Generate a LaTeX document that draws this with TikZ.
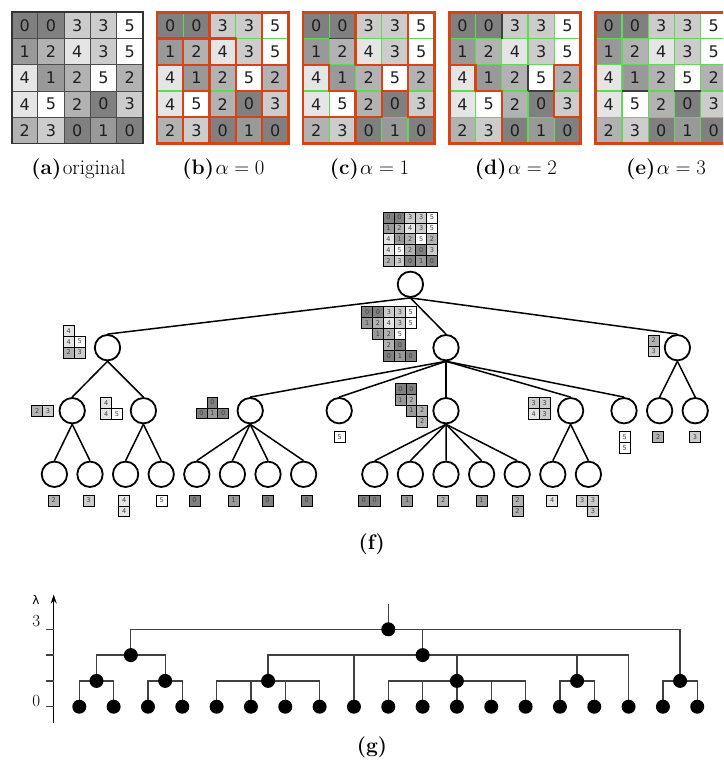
\documentclass[tikz,border=0pt]{standalone}
\usepackage{fontspec}
\newfontfamily\dejavu{DejaVu Sans}
\usetikzlibrary{arrows.meta,backgrounds}
\definecolor{zred}{HTML}{D84315}
\definecolor{zgreen}{HTML}{64D75A}
\newcommand{\gcs}{26.25}
\newcommand{\gtop}{12.3}
% full 5x5 value grid: #1 name prefix, #2 left x, #3 cell style
\newcommand{\biggrid}[3]{%
  \foreach \vals [count=\r from 0] in {{0,0,3,3,5},{1,2,4,3,5},{4,1,2,5,2},{4,5,2,0,3},{2,3,0,1,0}} {%
    \foreach \v [count=\c from 0] in \vals {%
      \pgfmathtruncatemacro\gpct{50-10*\v}%
      \node[#3, fill=black!\gpct] (#1-\r-\c) at ({#2+(\c+0.5)*\gcs},{\gtop+(\r+0.5)*\gcs}) {\v};
    }
  }
}
% all internal edges in green
\newcommand{\allgreen}[1]{%
  \foreach \r in {0,...,4} {\foreach \c in {0,...,3} {%
    \draw[gline] ({#1+(\c+1)*\gcs},{\gtop+\r*\gcs}) -- ++(0,\gcs);
    \draw[gline] ({#1+\r*\gcs},{\gtop+(\c+1)*\gcs}) -- ++(\gcs,0);
  }}
}
% selected edges: t=0 vertical segment between (r,c),(r,c+1); t=1 horizontal between (r,c),(r+1,c)
\newcommand{\gedges}[3]{%
  \foreach \t/\r/\c in {#3} {%
    \ifnum\t=0
      \draw[#2] ({#1+(\c+1)*\gcs},{\gtop+\r*\gcs}) -- ++(0,\gcs);
    \else
      \draw[#2] ({#1+\c*\gcs},{\gtop+(\r+1)*\gcs}) -- ++(\gcs,0);
    \fi
  }
}
% small region image: #1 prefix, #2 x, #3 y, #4 list r/c/v
\newcommand{\mini}[4]{%
  \foreach \r/\c/\v in {#4} {%
    \pgfmathtruncatemacro\gpct{50-10*\v}%
    \node[minicell, fill=black!\gpct] (#1-\r-\c) at ({#2+(\c+0.5)*10.9},{#3+(\r+0.5)*10.9}) {\v};
  }
}
\begin{document}
\begin{tikzpicture}[x=1pt,y=-1pt,
  bigcell/.style={inner sep=0pt, minimum size=26.25pt, font=\dejavu\fontsize{16}{18}\selectfont, text=black!88},
  acell/.style={bigcell, draw=black!70, line width=1pt},
  gline/.style={draw=zgreen, line width=1.2pt},
  dkline/.style={draw=black!75, line width=1.4pt},
  rline/.style={draw=zred, line width=2.3pt, line cap=round},
  minicell/.style={draw=black, line width=0.7pt, inner sep=0pt, minimum size=10.9pt, font=\dejavu\fontsize{6.5}{7}\selectfont, text=black!75},
  tnode/.style={circle, draw=black, line width=1.8pt, minimum size=25.4pt, inner sep=0pt},
  tedge/.style={draw=black, line width=1.5pt},
  dot/.style={circle, fill=black, inner sep=0pt, minimum size=14pt},
  dline/.style={draw=black!75, line width=1.3pt},
  captxt/.style={inner sep=0pt, font=\fontsize{21}{25}\selectfont}
]
\useasboundingbox (0,0) rectangle (723,767);
\clip (0,0) rectangle (723,767);

% ---------- top grids ----------
\biggrid{ga}{11.7}{acell}
\draw[draw=black!80, line width=1.8pt] (11.7,\gtop) rectangle ++(131.25,131.25);

\biggrid{gb}{157.0}{bigcell}
\allgreen{157.0}
\gedges{157.0}{rline}{0/0/1,0/0/3,0/1/0,0/1/1,0/1/2,0/1/3,0/2/0,0/2/1,0/2/2,0/2/3,0/3/0,0/3/1,0/3/2,0/3/3,0/4/0,0/4/1,0/4/2,0/4/3,1/0/0,1/0/1,1/0/2,1/1/0,1/1/1,1/1/2,1/1/3,1/1/4,1/2/1,1/2/3,1/2/4,1/3/0,1/3/1,1/3/2,1/3/3,1/3/4}
\draw[rline, line width=2.7pt] (157.0,\gtop) rectangle ++(131.25,131.25);

\biggrid{gc}{303.0}{bigcell}
\allgreen{303.0}
\gedges{303.0}{dkline}{1/0/1}
\gedges{303.0}{rline}{0/0/1,0/0/3,0/1/1,0/1/3,0/2/0,0/2/2,0/2/3,0/3/1,0/3/2,0/3/3,0/4/1,1/1/0,1/1/2,1/1/3,1/1/4,1/2/1,1/2/3,1/3/0,1/3/1,1/3/2,1/3/4}
\draw[rline, line width=2.7pt] (303.0,\gtop) rectangle ++(131.25,131.25);

\biggrid{gd}{449.3}{bigcell}
\allgreen{449.3}
\gedges{449.3}{dkline}{0/0/1,0/2/2,1/2/3}
\gedges{449.3}{rline}{0/2/0,0/2/3,0/3/1,0/3/3,0/4/1,1/1/0,1/1/4,1/2/1,1/3/4}
\draw[rline, line width=2.7pt] (449.3,\gtop) rectangle ++(131.25,131.25);

\biggrid{ge}{595.7}{bigcell}
\allgreen{595.7}
\gedges{595.7}{dkline}{1/2/1,1/2/3}
\draw[rline, line width=2.7pt] (595.7,\gtop) rectangle ++(131.25,131.25);

\node[captxt] (capa) at (78.5,169.3) {\textbf{(a)}\hspace{1.5pt}original};
\node[captxt] (capb) at (223.5,169.3) {\textbf{(b)}\hspace{1.5pt}$\alpha=0$};
\node[captxt] (capc) at (369.5,169.3) {\textbf{(c)}\hspace{1.5pt}$\alpha=1$};
\node[captxt] (capd) at (516,169.3) {\textbf{(d)}\hspace{1.5pt}$\alpha=2$};
\node[captxt] (cape) at (666,169.3) {\textbf{(e)}\hspace{1.5pt}$\alpha=3$};

% ---------- tree (f) ----------
\node[tnode] (root) at (410.4,284.3) {};
\node[tnode] (L) at (107.5,347.7) {};
\node[tnode] (M) at (446,347.7) {};
\node[tnode] (R) at (677.4,347.7) {};
\node[tnode] (a1) at (72.2,410.7) {};
\node[tnode] (a2) at (143.4,410.7) {};
\node[tnode] (m1) at (250.2,410.7) {};
\node[tnode] (m2) at (339.2,410.7) {};
\node[tnode] (m3) at (446,410.7) {};
\node[tnode] (m4) at (570.6,410.7) {};
\node[tnode] (m5) at (624,410.7) {};
\node[tnode] (r1) at (659.6,410.7) {};
\node[tnode] (r2) at (695.2,410.7) {};
\foreach \k in {0,...,7,9,10,...,15} {
  \node[tnode] (f\k) at ({54.4+35.6*\k},474.3) {};
}
\foreach \p/\ch in {root/L,root/M,root/R,L/a1,L/a2,M/m1,M/m2,M/m3,M/m4,M/m5,R/r1,R/r2,
  a1/f0,a1/f1,a2/f2,a2/f3,m1/f4,m1/f5,m1/f6,m1/f7,m3/f9,m3/f10,m3/f11,m3/f12,m3/f13,m4/f14,m4/f15} {
  \draw[tedge] (\p.south) -- (\ch.north);
}

\mini{iroot}{383}{212}{0/0/0,0/1/0,0/2/3,0/3/3,0/4/5,1/0/1,1/1/2,1/2/4,1/3/3,1/4/5,2/0/4,2/1/1,2/2/2,2/3/5,2/4/2,3/0/4,3/1/5,3/2/2,3/3/0,3/4/3,4/0/2,4/1/3,4/2/0,4/3/1,4/4/0}
\mini{iL}{63.3}{325.3}{0/0/4,1/0/4,1/1/5,2/0/2,2/1/3}
\mini{iM}{361.7}{306.7}{0/0/0,0/1/0,0/2/3,0/3/3,0/4/5,1/0/1,1/1/2,1/2/4,1/3/3,1/4/5,2/1/1,2/2/2,2/3/5,3/2/2,3/3/0,4/2/0,4/3/1,4/4/0}
\mini{iR}{648.3}{335}{0/0/2,1/0/3}
\mini{ia1}{31.7}{405.2}{0/0/2,0/1/3}
\mini{ia2}{100.7}{397.7}{0/0/4,1/0/4,1/1/5}
\mini{im1}{196}{397}{0/1/0,1/0/0,1/1/1,1/2/0}
\mini{im2}{334.3}{431.7}{0/0/5}
\mini{im3}{395}{383.3}{0/0/0,0/1/0,1/0/1,1/1/2,2/1/1,2/2/2,3/2/2}
\mini{im4}{528.3}{397.7}{0/0/3,0/1/3,1/0/4,1/1/3}
\mini{im5}{619.3}{431.7}{0/0/5,1/0/5}
\mini{ir1}{652.8}{431.7}{0/0/2}
\mini{ir2}{689.5}{431.7}{0/0/3}
\mini{lf0}{48.3}{495}{0/0/2}
\mini{lf1}{83.3}{495}{0/0/3}
\mini{lf2}{118.7}{495}{0/0/4,1/0/4}
\mini{lf3}{156.3}{495}{0/0/5}
\mini{lf4}{189}{495}{0/0/0}
\mini{lf5}{228.3}{495}{0/0/1}
\mini{lf6}{262}{495}{0/0/0}
\mini{lf7}{301.3}{495}{0/0/0}
\mini{lf9}{358.3}{495}{0/0/0,0/1/0}
\mini{lf10}{401.7}{495}{0/0/1}
\mini{lf11}{437.7}{495}{0/0/2}
\mini{lf12}{476}{495}{0/0/1}
\mini{lf13}{512}{495}{0/0/2,1/0/2}
\mini{lf14}{546.7}{495}{0/0/4}
\mini{lf15}{576.7}{495}{0/0/3,0/1/3,1/1/3}

\node[captxt] (capf) at (371.7,544) {\textbf{(f)}};

% ---------- dendrogram (g) ----------
\foreach \k in {0,...,18} {
  \node[dot] (d\k) at ({79.3+34.33*\k},706.7) {};
}
\node[dot] (n1a) at (96.5,680.9) {};
\node[dot] (n1b) at (165.2,680.9) {};
\node[dot] (n1c) at (268.1,680.9) {};
\node[dot] (n1d) at (456.9,680.9) {};
\node[dot] (n1e) at (577.1,680.9) {};
\node[dot] (n1f) at (680.1,680.9) {};
\node[dot] (n2a) at (130.8,655.1) {};
\node[dot] (n2b) at (422.6,655.1) {};
\node[dot] (n3) at (388.3,629.3) {};
\coordinate (stub) at (388.3,604.3);
\begin{pgfonlayer}{background}
\foreach \ch/\p in {d0/n1a,d1/n1a,d2/n1b,d3/n1b,d4/n1c,d5/n1c,d6/n1c,d7/n1c,
  d9/n1d,d10/n1d,d11/n1d,d12/n1d,d13/n1d,d14/n1e,d15/n1e,d17/n1f,d18/n1f,
  n1a/n2a,n1b/n2a,n1c/n2b,d8/n2b,n1d/n2b,n1e/n2b,d16/n2b,
  n2a/n3,n2b/n3,n1f/n3} {
  \draw[dline] (\ch.center) |- (\p.center);
}
\draw[dline] (n3.center) -- (stub);
\end{pgfonlayer}

\coordinate (ax0) at (53.7,723.3);
\coordinate (ax1) at (53.7,594.5);
\draw[line width=1.5pt, -{Stealth[length=9pt,width=6pt]}] (ax0) -- (ax1);
\foreach \l in {0,1,2,3} {
  \coordinate (tk\l a) at (45.5,{706.7-25.8*\l});
  \coordinate (tk\l b) at (53.7,{706.7-25.8*\l});
  \draw[dline] (tk\l a) -- (tk\l b);
}
\node[inner sep=0pt, font=\dejavu\fontsize{12}{13}\selectfont] (lam) at (36,599.7) {λ};
\node[inner sep=0pt, font=\fontsize{17}{19}\selectfont] (lab3) at (36.2,621.5) {3};
\node[inner sep=0pt, font=\fontsize{17}{19}\selectfont] (lab0) at (36.2,700.8) {0};

\node[captxt] (capg) at (372,747) {\textbf{(g)}};
\end{tikzpicture}
\end{document}
